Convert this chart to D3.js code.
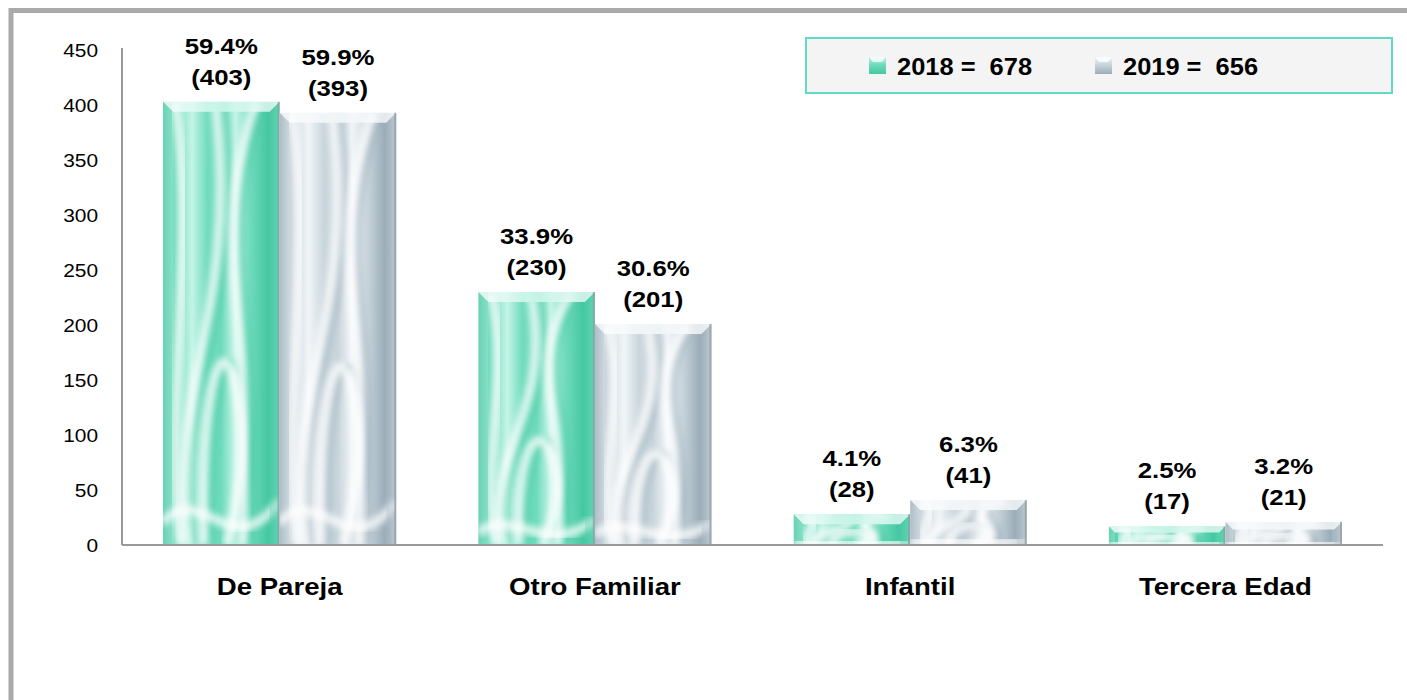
<!DOCTYPE html>
<html>
<head>
<meta charset="utf-8">
<title>Violencia familiar 2018-2019</title>
<script src="https://d3js.org/d3.v7.min.js"></script>
<style>
  html, body { margin: 0; padding: 0; background: #fff; }
  text { font-family: "Liberation Sans", Arial, sans-serif; fill: #000; }
</style>
</head>
<body>
<script>
// ---- data ----
const categories = ["De Pareja", "Otro Familiar", "Infantil", "Tercera Edad"];
const years = ["2018", "2019"];
const values2018 = [403, 230, 28, 17];
const values2019 = [393, 201, 41, 21];
const pct2018 = ["59.4%", "33.9%", "4.1%", "2.5%"];
const pct2019 = ["59.9%", "30.6%", "6.3%", "3.2%"];
const totals = [678, 656];
const yTicks = [0, 50, 100, 150, 200, 250, 300, 350, 400, 450];

const W = 1407, H = 700;
const mLeft = 122, mRight = 1383, mTop = 50, mBottom = 545;

// colours per series: base, light, dark
const pal = {
  "2018": {base: "#6fdbbd", light: "#c4f4e6", dark: "#45c7a2"},
  "2019": {base: "#c9d5dc", light: "#f1f5f8", dark: "#9aadb9"}
};

const svg = d3.select("body").append("svg")
  .attr("width", W).attr("height", H);

const defs = svg.append("defs");
defs.append("filter").attr("id", "blur")
  .attr("x", "-20%").attr("y", "-20%").attr("width", "140%").attr("height", "140%")
  .append("feGaussianBlur").attr("stdDeviation", 3);

years.forEach(function(yr) {
  let c = pal[yr];
  let g = defs.append("linearGradient").attr("id", "silk" + yr)
    .attr("x1", 0).attr("x2", 1).attr("y1", 0).attr("y2", 0);
  [[0, c.dark], [0.1, c.base], [0.25, c.light], [0.38, c.base], [0.5, c.base],
   [0.62, c.light], [0.75, c.base], [0.9, c.dark], [1, c.base]]
    .forEach(function(s) {
      g.append("stop").attr("offset", s[0]).attr("stop-color", s[1]);
    });
  let t = defs.append("linearGradient").attr("id", "top" + yr)
    .attr("x1", 0).attr("x2", 1).attr("y1", 0).attr("y2", 0);
  t.append("stop").attr("offset", 0).attr("stop-color", "#fff").attr("stop-opacity", 0.8);
  t.append("stop").attr("offset", 0.5).attr("stop-color", c.light).attr("stop-opacity", 0.95);
  t.append("stop").attr("offset", 1).attr("stop-color", "#fff").attr("stop-opacity", 0.7);
  let m = defs.append("linearGradient").attr("id", "mark" + yr)
    .attr("x1", 0).attr("x2", 0).attr("y1", 0).attr("y2", 1);
  m.append("stop").attr("offset", 0).attr("stop-color", c.light);
  m.append("stop").attr("offset", 0.45).attr("stop-color", c.base);
  m.append("stop").attr("offset", 1).attr("stop-color", c.dark);
});

// horizontal text stretch (the source image is a bit wider than the fonts)
function stretch(sel, s) {
  sel.each(function() {
    let el = d3.select(this);
    let ax = +el.attr("x") || 0;
    el.attr("transform", "translate(" + (ax * (1 - s)) + ",0) scale(" + s + ",1)");
  });
}

// outer frame
svg.append("path")
  .attr("d", "M11," + H + " V10.5 H" + W)
  .attr("fill", "none").attr("stroke", "#aaaaaa").attr("stroke-width", 5);

// scales
const y = d3.scaleLinear().domain([0, 450]).range([mBottom, mTop]);
const x0 = d3.scaleBand().domain(categories).range([mLeft, mRight]).padding(0);
const step = x0.step();
const x1 = d3.scaleBand().domain(years).range([0.13 * step, 0.87 * step]).padding(0);

// y axis
const yAxis = svg.append("g").attr("transform", "translate(" + mLeft + ",0)")
  .call(d3.axisLeft(y).tickValues(yTicks).tickSize(0).tickSizeOuter(0).tickPadding(24));
yAxis.select(".domain").attr("stroke", "#999").attr("stroke-width", 2)
  .attr("d", "M0," + (mTop - 2) + "V" + mBottom);
yAxis.selectAll("text").style("font-size", "19px")
  .style("font-family", "'Liberation Sans', Arial, sans-serif").attr("fill", "#000");
stretch(yAxis.selectAll("text"), 1.1);

// bars
const rows = [];
categories.forEach(function(cat, i) {
  rows.push({cat: cat, yr: "2018", v: values2018[i], p: pct2018[i]});
  rows.push({cat: cat, yr: "2019", v: values2019[i], p: pct2019[i]});
});

const bars = svg.append("g").selectAll("g.bar").data(rows).join("g").attr("class", "bar");

bars.each(function(d, i) {
  let g = d3.select(this);
  let bx = x0(d.cat) + x1(d.yr), bw = x1.bandwidth();
  let by = y(d.v), bh = mBottom - by;
  let c = pal[d.yr];
  let id = "clip" + i;
  defs.append("clipPath").attr("id", id).append("rect")
    .attr("x", bx).attr("y", by).attr("width", bw).attr("height", bh);
  let inner = g.append("g").attr("clip-path", "url(#" + id + ")");
  inner.append("rect").attr("x", bx).attr("y", by).attr("width", bw).attr("height", bh)
    .attr("fill", "url(#silk" + d.yr + ")");
  // silk folds
  let f = function(a, b) { return (bx + a * bw) + "," + (by + b * bh); };
  let folds = [
    "M" + f(0.2, 1) + " C" + f(0.05, 0.6) + " " + f(0.65, 0.5) + " " + f(0.45, 0),
    "M" + f(0.55, 1) + " C" + f(0.95, 0.6) + " " + f(0.3, 0.35) + " " + f(0.8, 0),
    "M" + f(0.35, 1) + " C" + f(0.3, 0.45) + " " + f(0.75, 0.45) + " " + f(0.68, 1),
    "M" + f(0.1, 0) + " C" + f(0.3, 0.3) + " " + f(0.0, 0.7) + " " + f(0.15, 1),
    "M" + f(0.0, 0.95) + " C" + f(0.3, 0.85) + " " + f(0.6, 1.05) + " " + f(1, 0.9)
  ];
  inner.selectAll("path.dk").data(folds.slice(0, 3)).join("path").attr("class", "dk")
    .attr("transform", "translate(" + (bw * 0.07) + ",0)")
    .attr("d", function(p) { return p; })
    .attr("fill", "none").attr("stroke", c.dark).attr("stroke-opacity", 0.5)
    .attr("stroke-width", Math.max(3, bw * 0.06)).attr("filter", "url(#blur)");
  inner.selectAll("path.lt").data(folds).join("path").attr("class", "lt")
    .attr("d", function(p) { return p; })
    .attr("fill", "none").attr("stroke", "#fff").attr("stroke-opacity", 0.75)
    .attr("stroke-width", Math.max(4, bw * 0.08)).attr("filter", "url(#blur)");
  // bevel
  let b = Math.min(10, bh / 3);
  g.append("polygon")
    .attr("points", [[bx, by], [bx + bw, by], [bx + bw - b, by + b], [bx + b, by + b]].join(" "))
    .attr("fill", "url(#top" + d.yr + ")");
  g.append("polygon")
    .attr("points", [[bx, by], [bx + b, by + b], [bx + b, mBottom], [bx, mBottom]].join(" "))
    .attr("fill", "#fff").attr("fill-opacity", 0.2);
  g.append("polygon")
    .attr("points", [[bx + bw, by], [bx + bw - b, by + b], [bx + bw - b, mBottom], [bx + bw, mBottom]].join(" "))
    .attr("fill", c.dark).attr("fill-opacity", 0.3);
  g.append("rect").attr("x", bx + bw - 2).attr("y", by).attr("width", 2).attr("height", bh)
    .attr("fill", "#8f9a9f").attr("fill-opacity", 0.7);
  // labels
  let cx = bx + bw / 2;
  g.append("text").attr("class", "vl").attr("x", cx).attr("y", by - 48)
    .attr("text-anchor", "middle").style("font-size", "23px").style("font-weight", "bold")
    .text(d.p);
  g.append("text").attr("class", "vl").attr("x", cx).attr("y", by - 17)
    .attr("text-anchor", "middle").style("font-size", "23px").style("font-weight", "bold")
    .text("(" + d.v + ")");
});
stretch(svg.selectAll("text.vl"), 1.12);

// x axis line
svg.append("line").attr("x1", mLeft).attr("x2", mRight).attr("y1", mBottom).attr("y2", mBottom)
  .attr("stroke", "#999").attr("stroke-width", 2);

// category labels
svg.append("g").selectAll("text").data(categories).join("text")
  .attr("class", "cat")
  .attr("x", function(d) { return x0(d) + step / 2; })
  .attr("y", 595)
  .attr("text-anchor", "middle").style("font-size", "24px").style("font-weight", "bold")
  .text(function(d) { return d; });
stretch(svg.selectAll("text.cat"), 1.15);

// legend
const lg = svg.append("g");
lg.append("rect").attr("x", 806).attr("y", 38).attr("width", 586).attr("height", 55)
  .attr("fill", "#f4f4f4").attr("stroke", "#62d8c6").attr("stroke-width", 2);
const legX = [869, 1095];
years.forEach(function(yr, i) {
  lg.append("rect").attr("x", legX[i]).attr("y", 57).attr("width", 17).attr("height", 17)
    .attr("fill", "url(#mark" + yr + ")");
  lg.append("polygon")
    .attr("points", [[legX[i], 57], [legX[i] + 17, 57], [legX[i] + 13, 62], [legX[i] + 4, 62]].join(" "))
    .attr("fill", "#fff").attr("fill-opacity", 0.75);
  lg.append("text").attr("class", "lg").attr("x", legX[i] + 28).attr("y", 75)
    .style("font-size", "24px").style("font-weight", "bold").style("white-space", "pre")
    .text(yr + " =  " + totals[i]);
});
stretch(svg.selectAll("text.lg"), 1.06);
</script>
</body>
</html>
